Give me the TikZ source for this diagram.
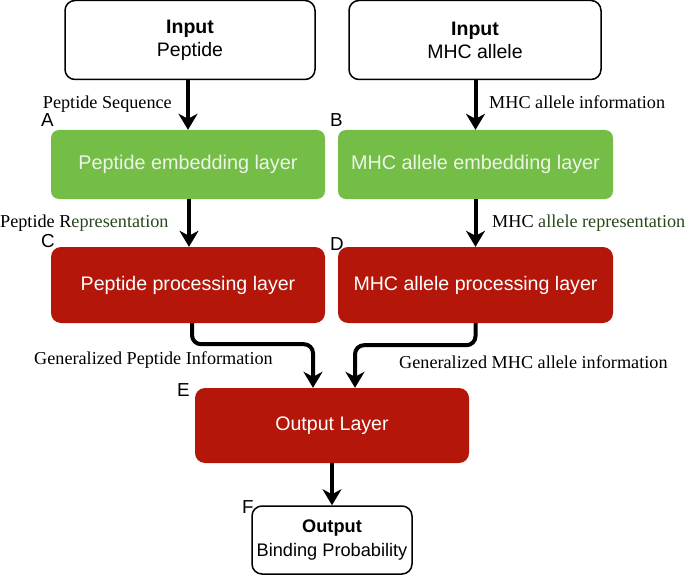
\documentclass[tikz,border=0pt]{standalone}
\usepackage{fontspec}
\setmainfont{Liberation Sans}
\newfontfamily\labserif{Liberation Serif}
\usetikzlibrary{arrows.meta}
\definecolor{boxgreen}{RGB}{116,190,72}
\definecolor{boxred}{RGB}{180,22,10}
\definecolor{dkgreen}{RGB}{38,72,28}
\definecolor{paletxt}{RGB}{236,246,230}
\begin{document}
\begin{tikzpicture}[x=1pt,y=-1pt,
  inbox/.style={draw=black,line width=1.5pt,rounded corners=10pt,fill=white,align=center,inner sep=0pt,
    font=\fontsize{19.5}{23}\selectfont},
  greenbox/.style={fill=boxgreen,rounded corners=8pt,inner sep=0pt,text=paletxt,
    font=\fontsize{19.8}{23}\selectfont},
  redbox/.style={fill=boxred,rounded corners=10pt,inner sep=0pt,text=white,
    font=\fontsize{19.6}{23}\selectfont},
  conn/.style={line width=4pt,-{Stealth[length=16pt,width=19pt,inset=5pt]}},
  edgelab/.style={inner sep=0pt,font=\labserif\fontsize{18.2}{21}\selectfont},
  letterlab/.style={inner sep=0pt,anchor=base west,font=\fontsize{18.8}{20}\selectfont}]
\useasboundingbox (0,0) rectangle (685,575);

% boxes
\node[inbox,minimum width=250pt,minimum height=79pt] (inP) at (190,40) {\textbf{Input}\\Peptide};
\node[inbox,minimum width=252pt,minimum height=79pt] (inM) at (475,40) {\textbf{Input}\\MHC allele};
\node[greenbox,minimum width=274pt,minimum height=69pt] (embP) at (188,164.5) {Peptide embedding layer};
\node[greenbox,minimum width=275pt,minimum height=69pt] (embM) at (475.5,164.5) {MHC allele embedding layer};
\node[redbox,minimum width=274pt,minimum height=76pt] (procP) at (188,285) {Peptide processing layer};
\node[redbox,minimum width=275pt,minimum height=76pt] (procM) at (475.5,285) {MHC allele processing layer};
\node[redbox,minimum width=274pt,minimum height=75pt] (outL) at (332,425.5) {Output Layer};
\node[inbox,minimum width=160pt,minimum height=68pt,font=\fontsize{18.2}{24}\selectfont] (res) at (332,540) {\textbf{Output}\\Binding Probability};

% connectors
\draw[conn] (embP.north |- inP.south) -- (embP.north);
\draw[conn] (embM.north |- inM.south) -- (embM.north);
\draw[conn] ([xshift=1pt]embP.south) -- ([xshift=1pt]procP.north);
\draw[conn] (embM.south) -- (procM.north);
\draw[conn,rounded corners=9pt] ([xshift=4pt]procP.south) -- ++(0,21) -| ([xshift=-19pt]outL.north);
\draw[conn,rounded corners=9pt] (procM.south) -- ++(0,22) -| ([xshift=23pt]outL.north);
\draw[conn] (outL.south) -- (res.north);

% connector labels
\node[edgelab,anchor=base east] (lseq) at (172,109) {Peptide Sequence};
\node[edgelab,anchor=base west] (linf) at (489,109) {MHC allele information};
\node[edgelab,anchor=base west] (lrep) at (0,227) {Peptide R\textcolor{dkgreen}{epresentation}};
\node[edgelab,anchor=base west] (lmrep) at (492,227) {MHC \textcolor{dkgreen}{allele representation}};
\node[edgelab,anchor=base west] (lgp) at (34,364) {Generalized Peptide Information};
\node[edgelab,anchor=base west] (lgm) at (399,368) {Generalized MHC allele information};

% letter labels
\node[letterlab] (la) at (41,127) {A};
\node[letterlab] (lb) at (330,127) {B};
\node[letterlab] (lc) at (41,247) {C};
\node[letterlab] (ld) at (330,250) {D};
\node[letterlab] (le) at (177,396) {E};
\node[letterlab] (lf) at (242,513) {F};
\end{tikzpicture}
\end{document}
